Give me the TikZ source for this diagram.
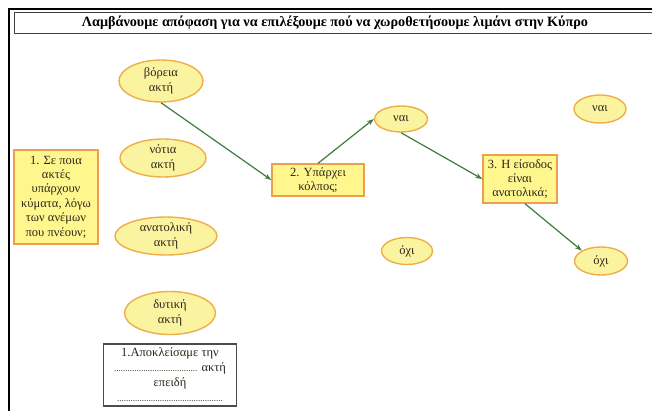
\documentclass[tikz,border=0pt]{standalone}
\usepackage{fontspec}
\setmainfont{Liberation Serif}
\usetikzlibrary{shapes.geometric,arrows.meta}
\definecolor{ellfill}{HTML}{FAF3A0}
\definecolor{ellline}{HTML}{EFAE48}
\definecolor{boxfill}{HTML}{FFF68E}
\definecolor{boxline}{HTML}{EE9E50}
\definecolor{arr}{HTML}{3C7D3C}
\definecolor{txt}{HTML}{2E2618}
\tikzset{
  oval/.style={ellipse, draw=ellline, fill=ellfill, line width=1.4pt, inner sep=0pt,
    align=center, text=txt, font=\fontsize{12.5}{14.8}\selectfont},
  qbox/.style={rectangle, draw=boxline, fill=boxfill, line width=1.4pt, inner sep=0pt,
    align=center, text=txt, font=\fontsize{12.5}{14.4}\selectfont},
  link/.style={draw=arr, line width=1.2pt, -{Stealth[length=7pt,width=5pt]}},
}
\begin{document}
\begin{tikzpicture}[x=1pt,y=-1pt]
\useasboundingbox (0,0) rectangle (652,410);
\clip (0,0) rectangle (652,410);
\fill[white] (0,0) rectangle (652,410);
% outer frame
\draw[black, line width=2pt] (8.5,420) -- (8.5,8.5) -- (660,8.5);
% title
\node[draw=black!75, line width=1.6pt, minimum width=660pt, minimum height=21pt,
  anchor=west, inner sep=0pt] (titlebox) at (13.5,23) {};
\node[font=\bfseries\fontsize{14.2}{16}\selectfont] (title) at (335,23)
  {Λαμβάνουμε απόφαση για να επιλέξουμε πού να χωροθετήσουμε λιμάνι στην Κύπρο};
% ellipses
\node[oval, minimum width=84pt, minimum height=42pt] (vor) at (161,81) {βόρεια\\ακτή};
\node[oval, minimum width=86pt, minimum height=38pt] (not) at (163,158) {νότια\\ακτή};
\node[oval, minimum width=102pt, minimum height=38pt] (anat) at (166,236) {ανατολική\\ακτή};
\node[oval, minimum width=91pt, minimum height=43pt] (dyt) at (170,313) {δυτική\\ακτή};
\node[oval, minimum width=53pt, minimum height=26pt] (nai1) at (401,119) {ναι};
\node[oval, minimum width=52pt, minimum height=28pt] (nai2) at (600,109) {ναι};
\node[oval, minimum width=51pt, minimum height=27pt] (ochi1) at (407,251) {όχι};
\node[oval, minimum width=53pt, minimum height=28pt] (ochi2) at (601,261) {όχι};
% question boxes
\node[qbox, minimum width=84pt, minimum height=94pt] (q1) at (56,197)
  {1. Σε ποια\\ακτές\\υπάρχουν\\κύματα, λόγω\\των ανέμων\\που πνέουν;};
\node[qbox, minimum width=92pt, minimum height=32pt] (q2) at (318,180) {2. Υπάρχει\\κόλπος;};
\node[qbox, minimum width=74pt, minimum height=48pt] (q3) at (520,179) {3. Η είσοδος\\είναι\\ανατολικά;};
% answer box
\node[draw=black!70, line width=1.8pt, fill=white,
  minimum width=133pt, minimum height=62pt, inner sep=0pt, align=center, text=txt,
  font=\fontsize{12.5}{15}\selectfont] (ans) at (170,375)
  {1.Αποκλείσαμε την\\{\fontsize{9}{15}\selectfont .....................................} ακτή\\επειδή\\{\fontsize{9}{15}\selectfont ...............................................}};
% connectors
\draw[link] (vor.south) -- (q2.west);
\draw[link] (q2.north) -- (nai1.west);
\draw[link] (nai1.south) -- (q3.west);
\draw[link] ([xshift=5pt]q3.south) -- (ochi2.north west);
\end{tikzpicture}
\end{document}
